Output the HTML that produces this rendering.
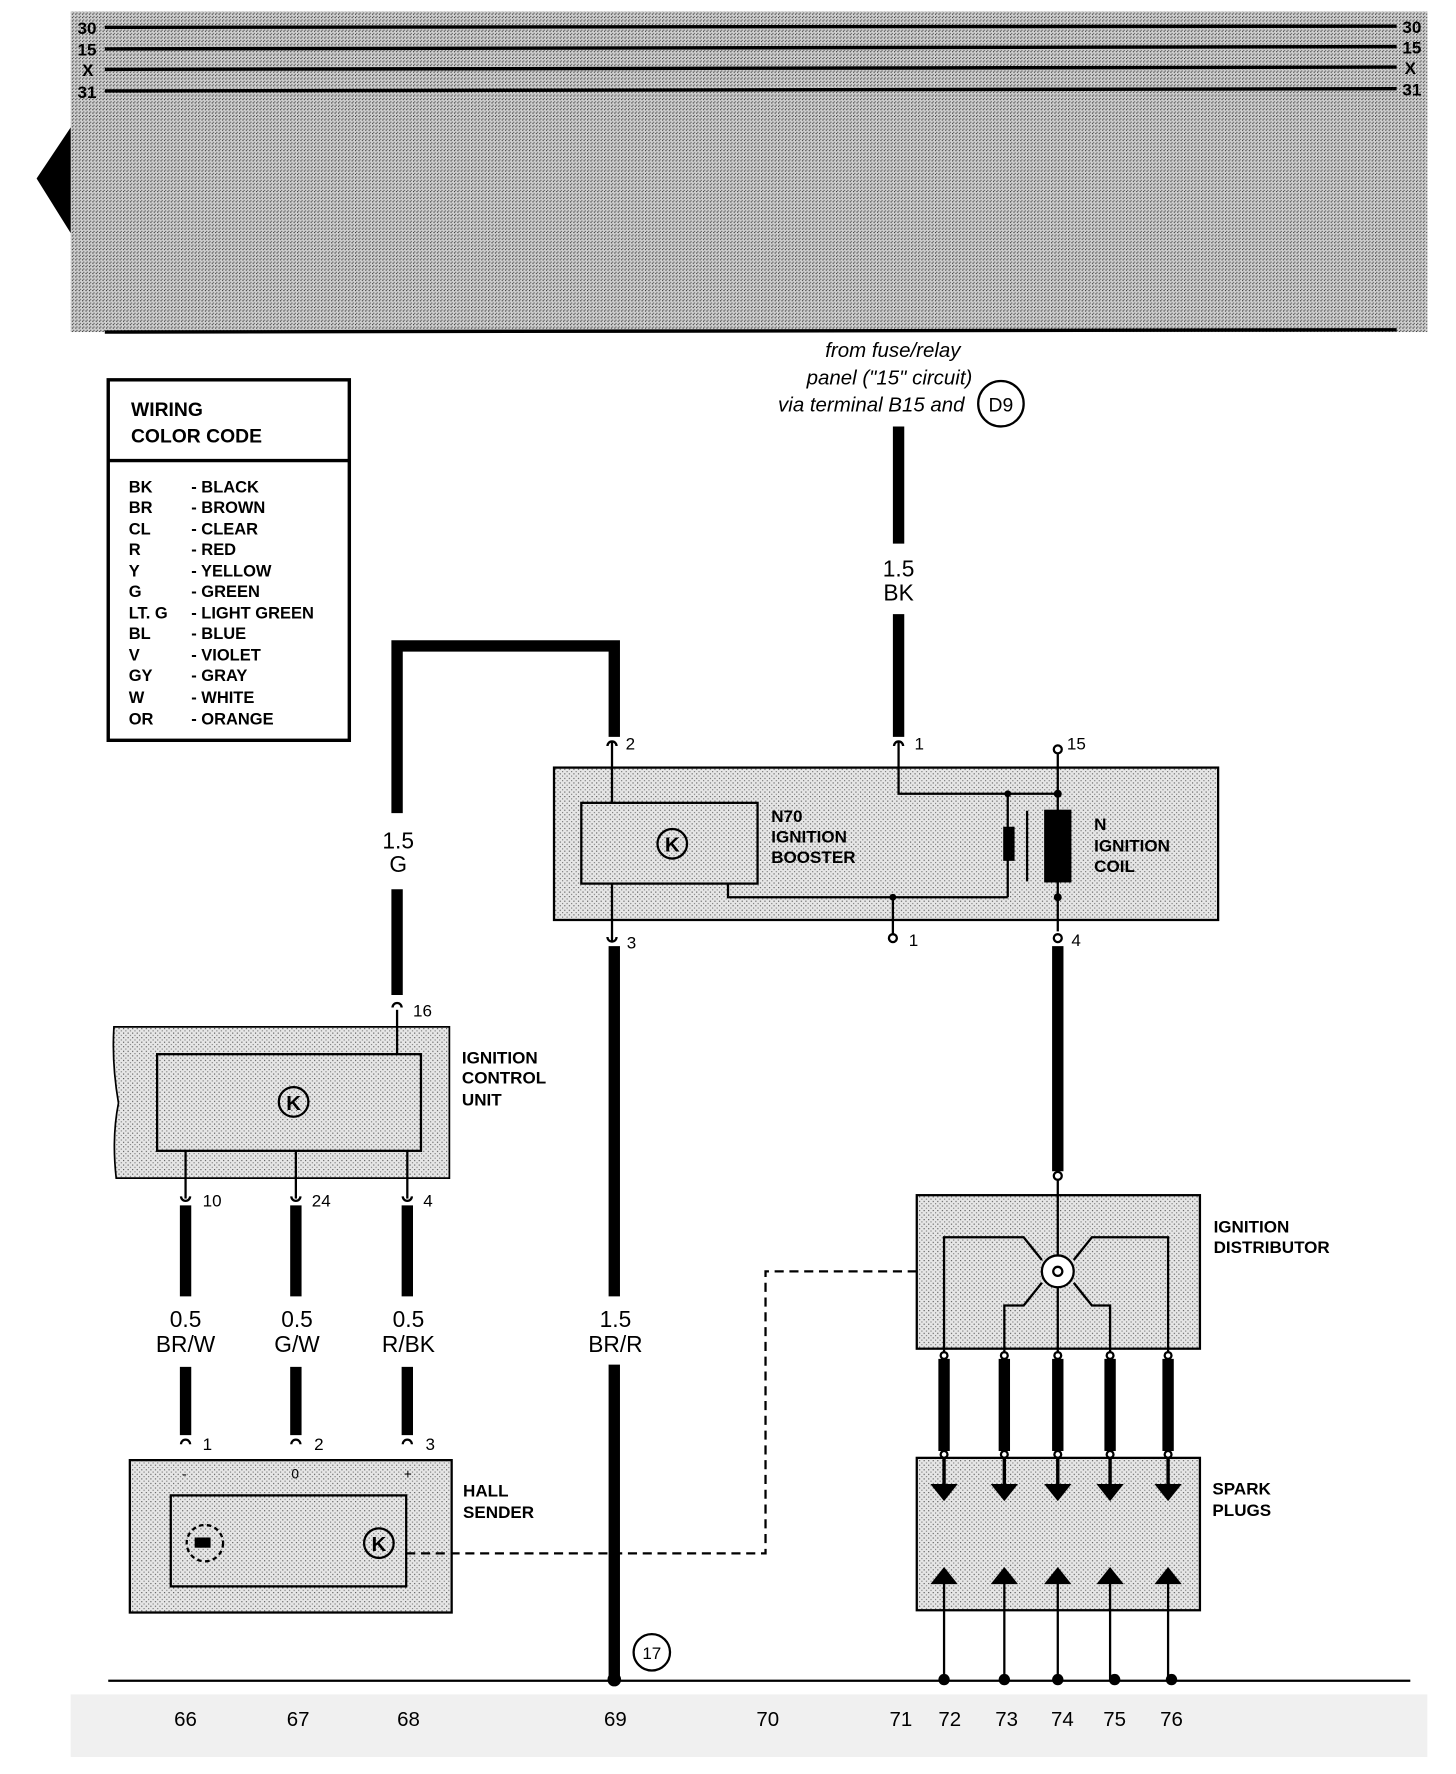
<!DOCTYPE html>
<html><head><meta charset="utf-8"><style>
html,body{margin:0;padding:0;background:#fff;width:1456px;height:1774px;overflow:hidden}
svg{display:block}
text{font-family:"Liberation Sans",sans-serif;fill:#000}
.b{font-weight:bold;font-size:17px}
.w{font-size:20px}
.s{font-size:15px}
.c{font-size:15px;font-weight:bold}
</style></head><body>
<svg width="1456" height="1774" viewBox="0 0 1280 1560" xmlns="http://www.w3.org/2000/svg">
<defs>
<pattern id="st" width="4" height="4" patternUnits="userSpaceOnUse">
<rect width="4" height="4" fill="#e6e6e6"/><rect x="0" y="0" width="1" height="1" fill="#555"/><rect x="2" y="2" width="1" height="1" fill="#777"/>
</pattern>
<pattern id="hd" width="3" height="3" patternUnits="userSpaceOnUse">
<rect width="3" height="3" fill="#d0d0d0"/><rect x="0" y="0" width="1" height="1" fill="#333"/><rect x="1" y="2" width="1" height="1" fill="#555"/>
</pattern>
</defs>
<!-- header band -->
<rect x="62" y="10" width="1193" height="282" fill="url(#hd)"/>
<g stroke="#000" stroke-width="3">
<line x1="92" y1="24" x2="1228" y2="23"/>
<line x1="92" y1="43" x2="1228" y2="41"/>
<line x1="92" y1="61" x2="1228" y2="59"/>
<line x1="92" y1="80" x2="1228" y2="78"/>
<line x1="92" y1="292" x2="1228" y2="290"/>
</g>
<g class="c"><text x="68" y="30">30</text><text x="68" y="49">15</text><text x="72" y="67">X</text><text x="68" y="86">31</text>
<text x="1233" y="29">30</text><text x="1233" y="47">15</text><text x="1235" y="65">X</text><text x="1233" y="84">31</text></g>
<polygon points="32,157 62,112 62,205" fill="#000"/>

<!-- source text -->
<g font-style="italic" font-size="18" text-anchor="middle"><text x="785" y="314">from fuse/relay</text><text x="782" y="338">panel ("15" circuit)</text><text x="766" y="362">via terminal B15 and</text></g>
<circle cx="880" cy="355" r="20" fill="none" stroke="#000" stroke-width="2"/><text x="880" y="362" text-anchor="middle" font-size="17">D9</text>

<!-- color code -->
<rect x="95" y="334" width="212" height="317" fill="#fff" stroke="#000" stroke-width="3"/>
<line x1="95" y1="405" x2="307" y2="405" stroke="#000" stroke-width="3"/>
<text class="b" x="115" y="366">WIRING</text><text class="b" x="115" y="389">COLOR CODE</text>
<g font-size="14.5" font-weight="bold">
<text x="113" y="433">BK</text><text x="168" y="433">- BLACK</text>
<text x="113" y="451">BR</text><text x="168" y="451">- BROWN</text>
<text x="113" y="470">CL</text><text x="168" y="470">- CLEAR</text>
<text x="113" y="488">R</text><text x="168" y="488">- RED</text>
<text x="113" y="507">Y</text><text x="168" y="507">- YELLOW</text>
<text x="113" y="525">G</text><text x="168" y="525">- GREEN</text>
<text x="113" y="544">LT. G</text><text x="168" y="544">- LIGHT GREEN</text>
<text x="113" y="562">BL</text><text x="168" y="562">- BLUE</text>
<text x="113" y="581">V</text><text x="168" y="581">- VIOLET</text>
<text x="113" y="599">GY</text><text x="168" y="599">- GRAY</text>
<text x="113" y="618">W</text><text x="168" y="618">- WHITE</text>
<text x="113" y="637">OR</text><text x="168" y="637">- ORANGE</text>
</g>

<!-- thick wires -->
<g stroke="#000" stroke-width="10" fill="none">
<line x1="790" y1="375" x2="790" y2="478"/><line x1="790" y1="540" x2="790" y2="648"/>
<polyline points="349,715 349,568 540,568 540,648"/><line x1="349" y1="782" x2="349" y2="875"/>
<line x1="540" y1="832" x2="540" y2="1140"/><line x1="540" y1="1200" x2="540" y2="1478"/>
<line x1="930" y1="832" x2="930" y2="1030"/>
<line x1="163" y1="1060" x2="163" y2="1140"/><line x1="163" y1="1202" x2="163" y2="1262"/>
<line x1="260" y1="1060" x2="260" y2="1140"/><line x1="260" y1="1202" x2="260" y2="1262"/>
<line x1="358" y1="1060" x2="358" y2="1140"/><line x1="358" y1="1202" x2="358" y2="1262"/>
<line x1="830" y1="1195" x2="830" y2="1276"/><line x1="883" y1="1195" x2="883" y2="1276"/>
<line x1="930" y1="1195" x2="930" y2="1276"/><line x1="976" y1="1195" x2="976" y2="1276"/>
<line x1="1027" y1="1195" x2="1027" y2="1276"/>
</g>
<g class="w" text-anchor="middle">
<text x="790" y="507">1.5</text><text x="790" y="528">BK</text>
<text x="350" y="746">1.5</text><text x="350" y="767">G</text>
<text x="541" y="1167">1.5</text><text x="541" y="1189">BR/R</text>
<text x="163" y="1167">0.5</text><text x="163" y="1189">BR/W</text>
<text x="261" y="1167">0.5</text><text x="261" y="1189">G/W</text>
<text x="359" y="1167">0.5</text><text x="359" y="1189">R/BK</text>
</g>

<!-- booster box -->
<rect x="487" y="675" width="584" height="134" fill="url(#st)" stroke="#000" stroke-width="2"/>
<rect x="511" y="706" width="155" height="71" fill="url(#st)" stroke="#000" stroke-width="2"/>
<circle cx="591" cy="742" r="13" fill="none" stroke="#000" stroke-width="2"/><text x="591" y="749" text-anchor="middle" font-size="18" font-weight="bold">K</text>
<g class="c"><text x="678" y="723">N70</text><text x="678" y="741">IGNITION</text><text x="678" y="759">BOOSTER</text>
<text x="962" y="730">N</text><text x="962" y="749">IGNITION</text><text x="962" y="767">COIL</text></g>
<g stroke="#000" stroke-width="2" fill="none">
<line x1="538" y1="652" x2="538" y2="706"/><line x1="538" y1="777" x2="538" y2="828"/>
<polyline points="790,652 790,698 930,698"/>
<line x1="886" y1="698" x2="886" y2="789"/>
<polyline points="640,777 640,789 886,789"/>
<line x1="785" y1="789" x2="785" y2="821"/>
<line x1="930" y1="663" x2="930" y2="819"/>
<line x1="903" y1="713" x2="903" y2="775"/>
<circle cx="930" cy="659" r="3.5"/><circle cx="785" cy="825" r="3.5"/><circle cx="930" cy="825" r="3.5"/>
</g>
<rect x="882" y="727" width="10" height="30" fill="#000"/>
<rect x="918" y="712" width="24" height="64" fill="#000"/>
<g fill="#000"><circle cx="886" cy="698" r="3"/><circle cx="930" cy="698" r="3.5"/><circle cx="930" cy="789" r="3.5"/><circle cx="785" cy="789" r="3"/></g>
<g class="s"><text x="550" y="659">2</text><text x="804" y="659">1</text><text x="938" y="659">15</text><text x="551" y="834">3</text><text x="799" y="832">1</text><text x="942" y="832">4</text></g>
<!-- terminal hooks -->
<g stroke="#000" stroke-width="2" fill="none">
<path d="M534,656 a4,4 0 0 1 8,0"/><path d="M786,656 a4,4 0 0 1 8,0"/>
<path d="M534,824 a4,4 0 0 0 8,0"/>
<path d="M345,886 a4,4 0 0 1 8,0"/>
<path d="M159,1052 a4,4 0 0 0 8,0"/><path d="M256,1052 a4,4 0 0 0 8,0"/><path d="M354,1052 a4,4 0 0 0 8,0"/>
<path d="M159,1270 a4,4 0 0 1 8,0"/><path d="M256,1270 a4,4 0 0 1 8,0"/><path d="M354,1270 a4,4 0 0 1 8,0"/>
</g>

<!-- ignition control unit -->
<path d="M100,903 L395,903 L395,1036 L102,1036 Q98,1000 104,970 Q98,935 100,903 Z" fill="url(#st)" stroke="#000" stroke-width="1.5"/>
<rect x="138" y="927" width="232" height="85" fill="url(#st)" stroke="#000" stroke-width="2"/>
<circle cx="258" cy="969" r="13" fill="none" stroke="#000" stroke-width="2"/><text x="258" y="976" text-anchor="middle" font-size="18" font-weight="bold">K</text>
<g stroke="#000" stroke-width="2"><line x1="349" y1="888" x2="349" y2="927"/><line x1="163" y1="1012" x2="163" y2="1054"/><line x1="260" y1="1012" x2="260" y2="1054"/><line x1="358" y1="1012" x2="358" y2="1054"/></g>
<g class="s"><text x="363" y="894">16</text><text x="178" y="1061">10</text><text x="274" y="1061">24</text><text x="372" y="1061">4</text>
<text x="178" y="1275">1</text><text x="276" y="1275">2</text><text x="374" y="1275">3</text></g>
<g class="c"><text x="406" y="935">IGNITION</text><text x="406" y="953">CONTROL</text><text x="406" y="972">UNIT</text>
<text x="407" y="1316">HALL</text><text x="407" y="1335">SENDER</text>
<text x="1067" y="1084">IGNITION</text><text x="1067" y="1102">DISTRIBUTOR</text>
<text x="1066" y="1314">SPARK</text><text x="1066" y="1333">PLUGS</text></g>

<!-- hall sender -->
<rect x="114" y="1284" width="283" height="134" fill="url(#st)" stroke="#000" stroke-width="2"/>
<rect x="150" y="1315" width="207" height="80" fill="url(#st)" stroke="#000" stroke-width="2"/>
<circle cx="180" cy="1357" r="16" fill="none" stroke="#000" stroke-width="2" stroke-dasharray="4,3"/>
<rect x="171" y="1352" width="14" height="9" fill="#000"/>
<circle cx="333" cy="1357" r="13" fill="none" stroke="#000" stroke-width="2"/><text x="333" y="1364" text-anchor="middle" font-size="18" font-weight="bold">K</text>
<g font-size="12"><text x="160" y="1300">-</text><text x="256" y="1300">0</text><text x="355" y="1300">+</text></g>
<polyline points="357,1366 673,1366 673,1118 926,1118" fill="none" stroke="#000" stroke-width="2" stroke-dasharray="8,5"/>

<!-- distributor -->
<rect x="806" y="1051" width="249" height="135" fill="url(#st)" stroke="#000" stroke-width="2"/>
<g stroke="#000" stroke-width="2" fill="none">
<circle cx="930" cy="1034" r="3.5"/>
<line x1="930" y1="1038" x2="930" y2="1104"/>
<polyline points="830,1190 830,1088 900,1088 916,1108"/>
<polyline points="1027,1190 1027,1088 960,1088 944,1108"/>
<polyline points="883,1190 883,1148 900,1148 916,1128"/>
<polyline points="976,1190 976,1148 960,1148 944,1128"/>
<line x1="930" y1="1132" x2="930" y2="1190"/>
<circle cx="930" cy="1118" r="14" fill="#fff"/><circle cx="930" cy="1118" r="4"/>
<circle cx="830" cy="1192" r="3"/><circle cx="883" cy="1192" r="3"/><circle cx="930" cy="1192" r="3"/><circle cx="976" cy="1192" r="3"/><circle cx="1027" cy="1192" r="3"/>
<circle cx="830" cy="1279" r="3"/><circle cx="883" cy="1279" r="3"/><circle cx="930" cy="1279" r="3"/><circle cx="976" cy="1279" r="3"/><circle cx="1027" cy="1279" r="3"/>
</g>

<!-- spark plugs -->
<rect x="806" y="1282" width="249" height="134" fill="url(#st)" stroke="#000" stroke-width="2"/>
<g stroke="#000" stroke-width="3">
<line x1="830" y1="1282" x2="830" y2="1305"/><line x1="883" y1="1282" x2="883" y2="1305"/><line x1="930" y1="1282" x2="930" y2="1305"/><line x1="976" y1="1282" x2="976" y2="1305"/><line x1="1027" y1="1282" x2="1027" y2="1305"/>
</g>
<g stroke="#000" stroke-width="2">
<line x1="830" y1="1390" x2="830" y2="1478"/><line x1="883" y1="1390" x2="883" y2="1478"/><line x1="930" y1="1390" x2="930" y2="1478"/><line x1="976" y1="1390" x2="976" y2="1478"/><line x1="1027" y1="1390" x2="1027" y2="1478"/>
</g>
<g fill="#000">
<polygon points="818,1305 842,1305 830,1320"/><polygon points="871,1305 895,1305 883,1320"/><polygon points="918,1305 942,1305 930,1320"/><polygon points="964,1305 988,1305 976,1320"/><polygon points="1015,1305 1039,1305 1027,1320"/>
<polygon points="818,1393 842,1393 830,1378"/><polygon points="871,1393 895,1393 883,1378"/><polygon points="918,1393 942,1393 930,1378"/><polygon points="964,1393 988,1393 976,1378"/><polygon points="1015,1393 1039,1393 1027,1378"/>
<circle cx="830" cy="1477" r="5"/><circle cx="883" cy="1477" r="5"/><circle cx="930" cy="1477" r="5"/><circle cx="980" cy="1477" r="5"/><circle cx="1030" cy="1477" r="5"/><circle cx="540" cy="1477" r="6"/>
</g>
<circle cx="573" cy="1453" r="16" fill="none" stroke="#000" stroke-width="2"/><text x="573" y="1459" text-anchor="middle" font-size="15">17</text>

<!-- ground & bottom -->
<line x1="95" y1="1478" x2="1240" y2="1478" stroke="#000" stroke-width="2"/>
<rect x="62" y="1490" width="1193" height="55" fill="#f0f0f0"/>
<g font-size="18" text-anchor="middle">
<text x="163" y="1518">66</text><text x="262" y="1518">67</text><text x="359" y="1518">68</text><text x="541" y="1518">69</text><text x="675" y="1518">70</text><text x="792" y="1518">71</text><text x="835" y="1518">72</text><text x="885" y="1518">73</text><text x="934" y="1518">74</text><text x="980" y="1518">75</text><text x="1030" y="1518">76</text>
</g>
</svg>
</body></html>
